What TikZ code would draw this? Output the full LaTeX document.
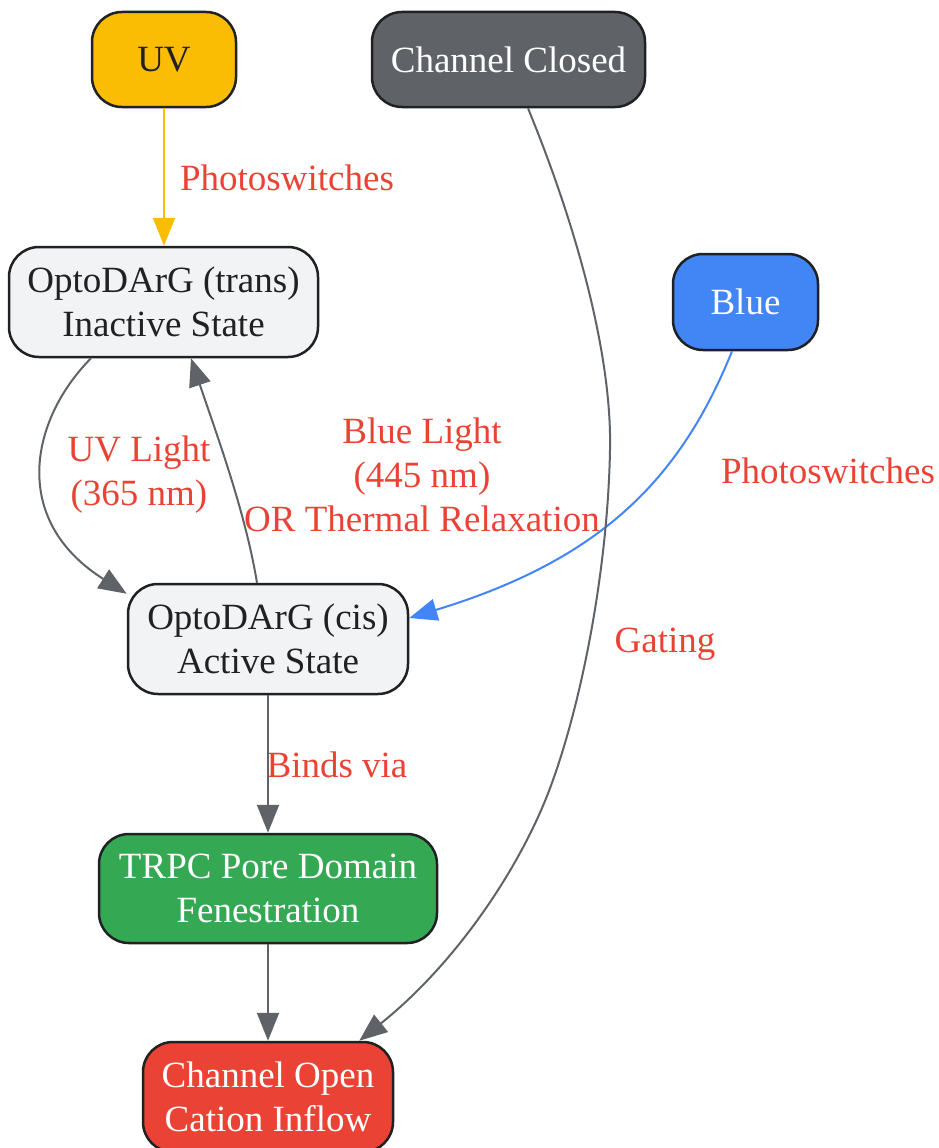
\documentclass[tikz,border=0pt]{standalone}
\usepackage{fontspec}
\setmainfont{Liberation Serif}
\usetikzlibrary{arrows.meta}
\definecolor{gyellow}{HTML}{FBBC04}
\definecolor{ggray}{HTML}{5F6368}
\definecolor{glight}{HTML}{F1F3F4}
\definecolor{gblue}{HTML}{4285F4}
\definecolor{ggreen}{HTML}{34A853}
\definecolor{gred}{HTML}{EA4335}
\definecolor{gdark}{HTML}{202124}

\tikzset{
		state/.style={
			rectangle, rounded corners=30pt, draw=gdark, line width=2.5pt, align=center,
			inner xsep=14pt, inner ysep=4pt, font=\fontsize{37}{44}\selectfont, text=white},
		pale/.style={state, fill=glight, text=gdark},
		flow/.style={draw=ggray, line width=2pt, -{Triangle[length=28pt,width=22pt]}},
		lbl/.style={text=gred, font=\fontsize{37}{44}\selectfont, align=center, inner sep=0pt},
	}

\begin{document}
\begin{tikzpicture}[x=1pt, y=-1pt]
			\useasboundingbox (0,0) rectangle (939,1148);
			\node[state, fill=gyellow, text=gdark, minimum width=144pt, minimum height=95pt] (uv) at (164,59.5) {UV};
			\node[state, fill=ggray, minimum width=273pt, minimum height=95pt] (closed) at (508.5,59.5) {Channel Closed};
			\node[pale, minimum width=309pt, minimum height=110pt] (trans) at (163.5,302) {OptoDArG (trans)\\Inactive State};
			\node[state, fill=gblue, minimum width=145pt, minimum height=96pt] (blue) at (745.5,302) {Blue};
			\node[pale, minimum width=280pt, minimum height=110pt] (cis) at (268,639) {OptoDArG (cis)\\Active State};
			\node[state, fill=ggreen, minimum width=338pt, minimum height=109pt] (pore) at (268,888.5) {TRPC Pore Domain\\Fenestration};
			\node[state, fill=gred, minimum width=250pt, minimum height=110pt] (open) at (268,1097) {Channel Open\\Cation Inflow};
			\node[lbl, anchor=base] (uvsw) at (287,190) {Photoswitches};
			\node[lbl] (uvlight) at (139,475) {UV Light\\(365 nm)};
			\node[lbl] (bluelight) at (422,475) {Blue Light\\(445 nm)\\OR Thermal Relaxation};
			\node[lbl, anchor=base] (bluesw) at (828,483) {Photoswitches};
			\node[lbl, anchor=base] (gating) at (665,652) {Gating};
			\node[lbl, anchor=base] (binds) at (337,777) {Binds via};
			\draw[flow, draw=gyellow] (uv.south) -- (uv.south |- trans.north);
			\draw[flow] ([xshift=-72.5pt]trans.south) .. controls (30,420) and (10,520) .. ([yshift=-11pt]cis.north west);
			\draw[flow] ([xshift=-11pt]cis.north) .. controls (245,510) and (215,430) .. ([xshift=27.5pt]trans.south);
			\draw[flow, draw=gblue] ([xshift=-13.5pt]blue.south) .. controls (680,480) and (600,560) .. ([yshift=21pt]cis.east);
			\draw[flow] ([xshift=19.5pt]closed.south) .. controls (580,235) and (612,360) .. (610,450)
			.. controls (608,560) and (585,690) .. (553,780)
			.. controls (525,860) and (460,960) .. ([xshift=-35pt]open.north east);
			\draw[flow] (cis) -- (pore);
			\draw[flow] (pore) -- (open);
			\end{tikzpicture}
\end{document}
